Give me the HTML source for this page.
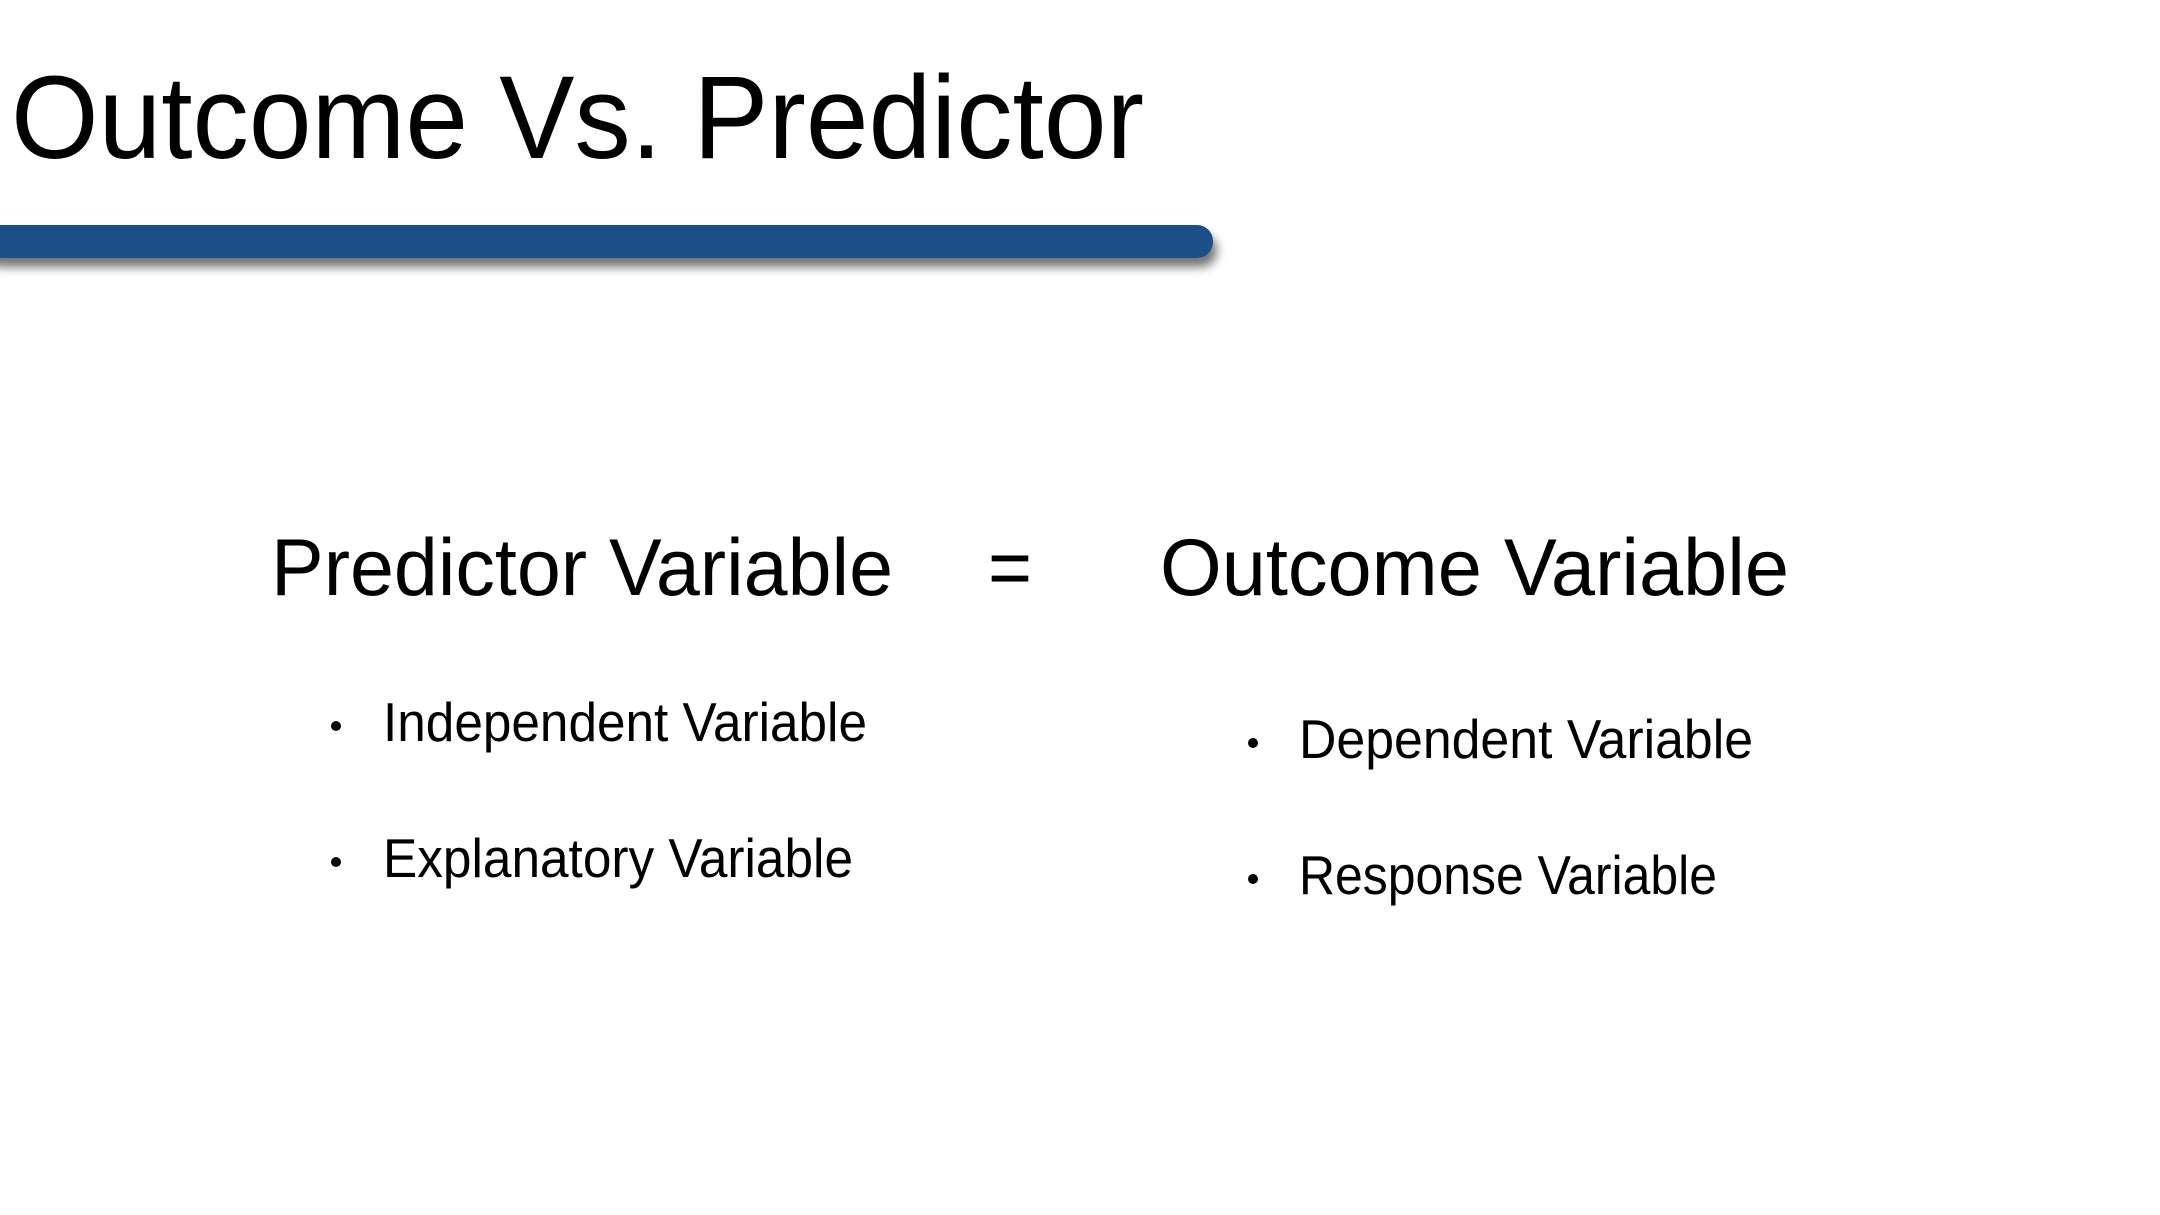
<!DOCTYPE html>
<html><head><meta charset="utf-8"><style>
html,body{margin:0;padding:0;background:#fff;width:2160px;height:1215px;overflow:hidden}
svg{display:block}
text{font-family:"Liberation Sans",sans-serif;fill:#000}
</style></head><body>
<svg width="2160" height="1215" viewBox="0 0 2160 1215">
<defs><filter id="sh" x="-5%" y="-50%" width="110%" height="250%"><feGaussianBlur in="SourceAlpha" stdDeviation="5"/><feOffset dx="4" dy="9"/><feComponentTransfer><feFuncA type="linear" slope="0.55"/></feComponentTransfer><feMerge><feMergeNode/><feMergeNode in="SourceGraphic"/></feMerge></filter></defs>
<text x="11" y="158" font-size="118" textLength="1133" lengthAdjust="spacingAndGlyphs" style="font-weight:300">Outcome Vs. Predictor</text>
<rect x="-20" y="225" width="1233" height="33" rx="16" fill="#1b4f87" filter="url(#sh)"/>
<text x="271" y="595" font-size="81" textLength="622" lengthAdjust="spacingAndGlyphs">Predictor Variable</text>
<text x="988" y="595" font-size="81" textLength="44" lengthAdjust="spacingAndGlyphs">=</text>
<text x="1160" y="595" font-size="81" textLength="629" lengthAdjust="spacingAndGlyphs">Outcome Variable</text>
<circle cx="336" cy="726" r="5"/>
<text x="383" y="741" font-size="55" textLength="484" lengthAdjust="spacingAndGlyphs">Independent Variable</text>
<circle cx="336" cy="862" r="5"/>
<text x="383" y="877" font-size="55" textLength="470" lengthAdjust="spacingAndGlyphs">Explanatory Variable</text>
<circle cx="1253" cy="743" r="5"/>
<text x="1299" y="758" font-size="55" textLength="454" lengthAdjust="spacingAndGlyphs">Dependent Variable</text>
<circle cx="1253" cy="879" r="5"/>
<text x="1299" y="894" font-size="55" textLength="418" lengthAdjust="spacingAndGlyphs">Response Variable</text>
</svg>
</body></html>
